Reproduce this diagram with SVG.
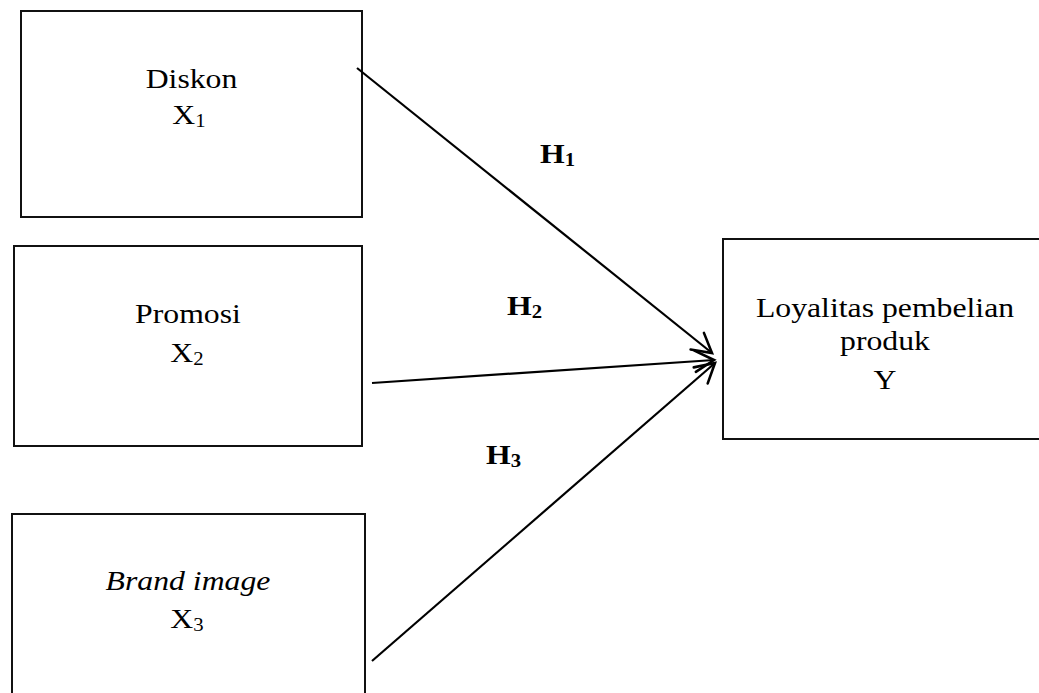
<svg xmlns="http://www.w3.org/2000/svg" width="1039" height="693" viewBox="0 0 1039 693">
<defs>
<style>
.box{fill:#fff;stroke:#111;stroke-width:2}
.t{font-family:'Liberation Serif','Times New Roman',serif;font-size:27.5px;fill:#000;text-anchor:middle}
.h{font-family:'Liberation Serif','Times New Roman',serif;font-size:27.5px;font-weight:bold;fill:#000}
.sub{font-size:18px}
.conn{stroke:#000;stroke-width:2.2;fill:none;marker-end:url(#arr)}
</style>
<marker id="arr" markerUnits="userSpaceOnUse" markerWidth="26" markerHeight="26" refX="18" refY="11" orient="auto" viewBox="0 0 22 22">
<path d="M2,2 L18,11 L2,20" fill="none" stroke="#000" stroke-width="2.2" stroke-linecap="round" stroke-linejoin="miter"/>
</marker>
</defs>
<rect width="1039" height="693" fill="#fff"/>
<g id="node-diskon">
<rect class="box" x="21" y="11" width="341" height="206"/>
<g transform="translate(191.5,88) scale(1.154,1)"><text class="t" x="0" y="0">Diskon</text></g>
<g transform="translate(189,124) scale(1.154,1)"><text class="t" x="0" y="0">X<tspan class="sub" dy="3" font-size="16">1</tspan></text></g>
</g>
<g id="node-promosi">
<rect class="box" x="14" y="246" width="348" height="200"/>
<g transform="translate(188,323) scale(1.154,1)"><text class="t" x="0" y="0">Promosi</text></g>
<g transform="translate(187,362) scale(1.154,1)"><text class="t" x="0" y="0">X<tspan class="sub" dy="3">2</tspan></text></g>
</g>
<g id="node-brand">
<rect class="box" x="12" y="514" width="353" height="200"/>
<g transform="translate(188,590) scale(1.154,1)"><text class="t" x="0" y="0" font-style="italic">Brand image</text></g>
<g transform="translate(187,628) scale(1.154,1)"><text class="t" x="0" y="0">X<tspan class="sub" dy="3" font-size="20">3</tspan></text></g>
</g>
<g id="node-loyalitas">
<rect class="box" x="723" y="239" width="340" height="200"/>
<g transform="translate(885,317) scale(1.154,1)"><text class="t" x="0" y="0">Loyalitas pembelian</text></g>
<g transform="translate(885,350) scale(1.154,1)"><text class="t" x="0" y="0">produk</text></g>
<g transform="translate(885,389) scale(1.154,1)"><text class="t" x="0" y="0">Y</text></g>
</g>
<g id="connectors">
<line class="conn" x1="357" y1="68" x2="712" y2="353"/>
<line class="conn" x1="372" y1="383" x2="714" y2="360"/>
<line class="conn" x1="372" y1="661" x2="715" y2="363"/>
</g>
<g id="labels">
<g transform="translate(540,163) scale(1.154,1)"><text class="h" x="0" y="0">H<tspan class="sub" dy="3">1</tspan></text></g>
<g transform="translate(507,315) scale(1.154,1)"><text class="h" x="0" y="0">H<tspan class="sub" dy="3">2</tspan></text></g>
<g transform="translate(486,464) scale(1.154,1)"><text class="h" x="0" y="0">H<tspan class="sub" dy="3">3</tspan></text></g>
</g>
</svg>
